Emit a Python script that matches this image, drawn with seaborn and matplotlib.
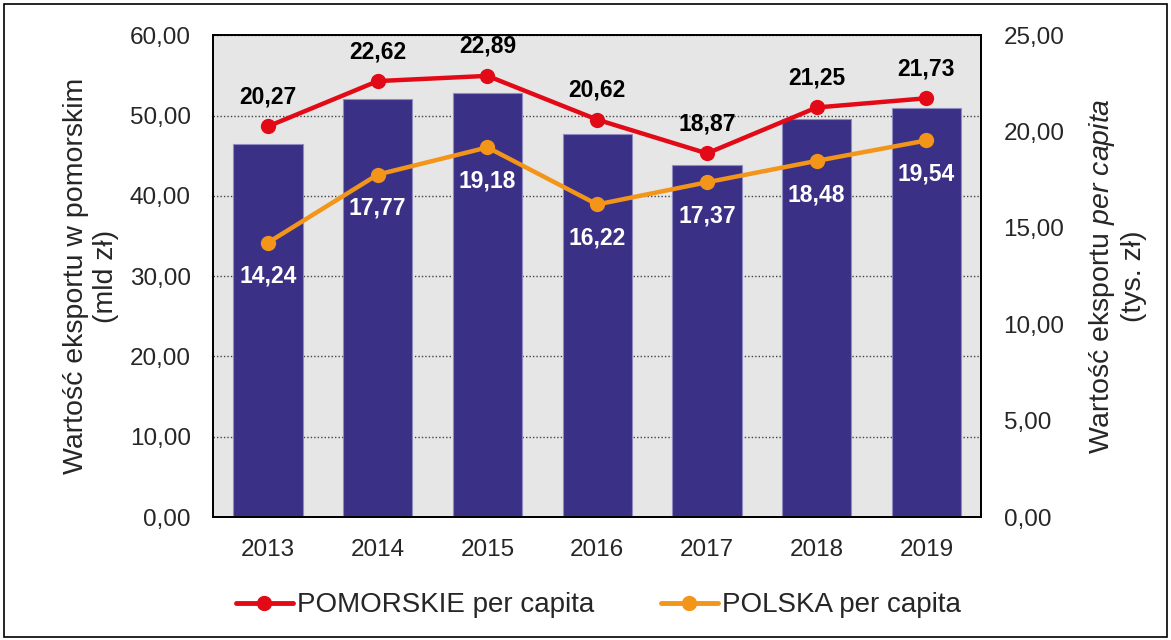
import matplotlib
matplotlib.use("Agg")
import matplotlib.pyplot as plt
import seaborn as sns
import pandas as pd
from matplotlib.lines import Line2D
from matplotlib.patches import Rectangle

# dane
lata = ["2013", "2014", "2015", "2016", "2017", "2018", "2019"]
eksport_pomorskie = [46.5, 52.0, 52.8, 47.7, 43.8, 49.6, 50.9]   # mld zł (słupki)
pomorskie_pc = [20.27, 22.62, 22.89, 20.62, 18.87, 21.25, 21.73]  # tys. zł
polska_pc = [14.24, 17.77, 19.18, 16.22, 17.37, 18.48, 19.54]     # tys. zł

df = pd.DataFrame({"rok": lata, "eksport": eksport_pomorskie,
                   "pomorskie": pomorskie_pc, "polska": polska_pc})

sns.set_style("white")
plt.rcParams["font.family"] = ["Liberation Sans", "DejaVu Sans"]
plt.rcParams["mathtext.fontset"] = "custom"
plt.rcParams["mathtext.rm"] = "Liberation Sans"
plt.rcParams["mathtext.it"] = "Liberation Sans:italic"

kol_slupki = "#3A3186"
kol_czerw = "#E30A17"
kol_pomar = "#F39519"

fig = plt.figure(figsize=(11.71, 6.40), dpi=100)
ax = fig.add_axes([0.182, 0.192, 0.656, 0.753])
ax.set_facecolor("#E6E6E6")

# słupki
sns.barplot(data=df, x="rok", y="eksport", color=kol_slupki, width=0.63,
            saturation=1, edgecolor="#8E8BC0", linewidth=0.8, ax=ax, zorder=2)
ax.set_ylim(0, 60)
ax.set_xlim(-0.5, 6.5)
ax.set_yticks(range(0, 61, 10))
ax.set_yticklabels([f"{v},00" for v in range(0, 61, 10)])
ax.yaxis.grid(True, linestyle=(0, (1, 1.5)), color="#444444", linewidth=1.0, zorder=0)
ax.set_axisbelow(True)
ax.set_xlabel("")
ax.set_ylabel("Wartość eksportu w pomorskim\n(mld zł)", fontsize=20.5, labelpad=8,
              linespacing=1.2)
ax.tick_params(axis="both", length=0, labelsize=17.5, pad=16)

# linie na drugiej osi
ax2 = ax.twinx()
sns.lineplot(data=df, x="rok", y="pomorskie", color=kol_czerw, linewidth=3.2,
             marker="o", markersize=11, markeredgewidth=0, ax=ax2, zorder=4)
sns.lineplot(data=df, x="rok", y="polska", color=kol_pomar, linewidth=3.2,
             marker="o", markersize=11, markeredgewidth=0, ax=ax2, zorder=3)
ax2.set_ylim(0, 25)
ax2.set_xlim(-0.5, 6.5)
ax2.set_yticks([0, 5, 10, 15, 20, 25])
ax2.set_yticklabels(["0,00", "5,00", "10,00", "15,00", "20,00", "25,00"])
ax2.set_xlabel("")
ax2.set_ylabel("Wartość eksportu $\\it{per\\ capita}$\n(tys. zł)", fontsize=20.5,
               labelpad=16, linespacing=1.2)
ax2.tick_params(axis="y", length=0, labelsize=17.5, pad=16)

for i, (a, b) in enumerate(zip(pomorskie_pc, polska_pc)):
    ax2.annotate(f"{a:.2f}".replace(".", ","), (i, a), xytext=(0, 13),
                 textcoords="offset points", ha="center", va="bottom",
                 fontsize=16.5, fontweight="bold", color="black")
    ax2.annotate(f"{b:.2f}".replace(".", ","), (i, b), xytext=(0, -16),
                 textcoords="offset points", ha="center", va="top",
                 fontsize=16.5, fontweight="bold", color="white")

for a in (ax, ax2):
    for s in a.spines.values():
        s.set_color("black")
        s.set_linewidth(1.3)

# legenda
uchwyty = [Line2D([0], [0], color=kol_czerw, lw=3.5, marker="o", markersize=10),
           Line2D([0], [0], color=kol_pomar, lw=3.5, marker="o", markersize=10)]
fig.legend(uchwyty, ["POMORSKIE per capita", "POLSKA per capita"], loc="center",
           bbox_to_anchor=(0.511, 0.054), ncol=2, frameon=False, fontsize=20,
           handlelength=2.05, handletextpad=0.15, columnspacing=2.4)

# ramka wokół wykresu
fig.patches.append(Rectangle((0.003, 0.004), 0.994, 0.99, transform=fig.transFigure,
                             fill=False, edgecolor="black", linewidth=1.2))

fig.savefig("out.png", dpi=100)
